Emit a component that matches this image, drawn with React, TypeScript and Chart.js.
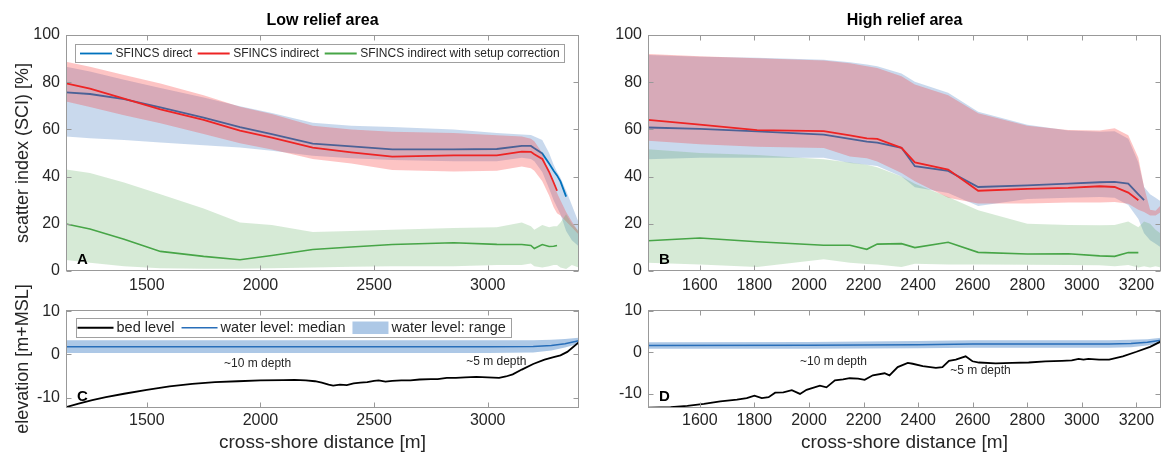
import React, { useEffect, useRef } from 'react';
import { Chart, registerables } from 'chart.js';

Chart.register(...registerables);

// ---------------- text ----------------
const titleA = 'Low relief area';
const titleB = 'High relief area';
const yTitleSci = 'scatter index (SCI) [%]';
const yTitleElev = 'elevation [m+MSL]';
const xTitleElev = 'cross-shore distance [m]';
const sciLegend = ['SFINCS direct', 'SFINCS indirect', 'SFINCS indirect with setup correction'];
const elevLegend = ['bed level', 'water level: median', 'water level: range'];
const panelLetters = ['A', 'B', 'C', 'D'];
const depthLabels = ['~10 m depth', '~5 m depth'];

// ---------------- ticks ----------------
const xTicksA = [1500, 2000, 2500, 3000];
const xTicksB = [1600, 1800, 2000, 2200, 2400, 2600, 2800, 3000, 3200];
const yTicksSci = [0, 20, 40, 60, 80, 100];
const yTicksElev = [-10, 0, 10];

// ---------------- panel A (low relief) ----------------
const xA = [1145, 1250, 1400, 1560, 1750, 1910, 2050, 2230, 2400, 2580, 2850, 3040, 3150, 3190, 3205, 3240, 3270, 3290, 3305, 3320, 3345, 3370, 3400];
const directMedA = [75.7, 75.0, 72.8, 69.3, 65.0, 61.0, 58.0, 54.0, 52.8, 51.5, 51.5, 51.7, 53.0, 53.0, 52.0, 49.8, 45.5, 42.5, 40.5, 38.0, 31.5, null, null];
const directHiA = [86.5, 84.5, 81.0, 77.5, 73.5, 69.8, 67.0, 62.8, 61.5, 61.0, 60.0, 58.5, 57.8, 57.6, 57.0, 55.5, 50.0, 45.0, 42.0, 39.5, 34.0, 28.0, 20.5];
const directLoA = [57.0, 56.3, 55.5, 54.5, 53.3, 52.3, 51.0, 48.8, 47.8, 47.0, 46.5, 46.5, 48.0, 47.5, 46.5, 42.0, 35.0, 30.0, 27.0, 24.0, 17.0, 13.0, 10.5];
const indirectMedA = [79.5, 77.3, 73.0, 68.5, 64.0, 59.5, 56.5, 52.3, 50.3, 48.5, 49.0, 49.0, 50.6, 50.5, 49.5, 47.5, 42.0, 37.5, 34.0, null, null, null, null];
const indirectHiA = [88.7, 86.5, 83.0, 79.5, 74.5, 69.6, 66.5, 61.5, 60.0, 59.0, 58.5, 57.5, 57.0, 56.0, 55.0, 50.0, 41.0, 37.0, 33.0, 30.0, 25.0, 21.0, 16.5];
const indirectLoA = [71.8, 69.5, 66.0, 62.6, 58.0, 54.1, 51.5, 47.5, 45.5, 42.8, 42.2, 42.5, 44.3, 43.5, 42.5, 38.0, 32.0, 27.0, 24.5, 23.5, 21.0, 18.5, 15.5];
const setupMedA = [19.9, 17.8, 13.5, 8.3, 6.2, 4.8, 6.6, 9.1, 10.2, 11.2, 12.0, 11.3, 11.2, 10.8, 9.5, 11.2, 10.4, 10.5, 10.8, null, null, null, null];
const setupHiA = [43.0, 41.5, 37.5, 32.5, 26.5, 20.5, 19.5, 16.5, 17.0, 17.5, 18.2, 18.5, 20.5, 19.0, 17.5, 19.5, 18.5, 19.0, 19.0, 20.5, 24.0, 20.0, 17.0];
const setupLoA = [4.7, 3.5, 2.0, 1.2, 1.0, 1.0, 1.2, 1.5, 1.8, 2.0, 2.0, 2.5, 2.5, 3.2, 2.0, 1.5, 2.0, 2.5, 2.5, 1.5, 0.8, 2.5, 1.5];

// ---------------- panel B (high relief) ----------------
const xB = [1410, 1600, 1810, 2054, 2150, 2212, 2250, 2339, 2388, 2510, 2620, 2800, 2950, 3065, 3120, 3170, 3207, 3228, 3250, 3270, 3290];
const directMedB = [60.8, 60.2, 59.2, 57.8, 56.0, 54.8, 54.4, 52.2, 44.4, 42.4, 35.6, 36.3, 37.0, 37.6, 37.8, 37.0, 32.5, 30.0, null, null, null];
const directHiB = [91.5, 90.8, 90.4, 89.5, 88.5, 87.5, 86.8, 83.7, 80.2, 75.5, 67.5, 62.0, 59.5, 59.0, 59.2, 56.0, 46.0, 35.6, 32.5, 31.0, 29.5];
const directLoB = [47.4, 48.0, 48.0, 48.0, 45.8, 45.0, 44.5, 40.0, 35.5, 33.0, 27.5, 30.5, 31.0, 31.4, 31.0, 28.0, 22.0, 16.0, 13.0, 11.5, 10.0];
const indirectMedB = [64.0, 62.0, 59.7, 59.3, 57.5, 56.2, 56.0, 52.2, 46.0, 43.0, 34.0, 34.8, 35.2, 35.9, 35.6, 33.2, 30.0, null, null, null, null];
const indirectHiB = [91.9, 91.0, 90.2, 89.2, 88.0, 86.8, 86.0, 82.5, 79.0, 74.5, 66.8, 61.5, 59.7, 59.5, 60.5, 57.5, 48.0, 35.6, 26.0, 25.5, 28.0];
const indirectLoB = [55.2, 53.7, 52.6, 52.1, 48.5, 47.8, 46.4, 41.5, 38.0, 31.0, 28.6, 28.6, 29.0, 29.0, 29.2, 28.5, 26.0, 25.0, 23.5, 23.5, 25.0];
const setupMedB = [12.8, 14.0, 12.4, 10.9, 10.9, 9.2, 11.4, 11.6, 9.9, 12.2, 7.9, 7.2, 7.3, 6.4, 6.2, 7.8, 7.8, null, null, null, null];
const setupHiB = [51.6, 50.0, 49.2, 47.4, 46.0, 45.0, 44.0, 40.0, 37.0, 31.4, 25.7, 20.0, 19.5, 19.4, 19.5, 21.0, 18.5, 21.0, 20.0, 17.5, 15.8];
const setupLoB = [3.5, 2.8, 1.7, 5.0, 3.5, 3.0, 2.8, 1.7, 3.1, 2.8, 2.8, 2.6, 2.5, 2.4, 2.0, 2.5, 1.5, 2.0, 1.5, 2.0, 1.5];

// ---------------- panel C (low relief profile) ----------------
const xBedC = [1145, 1200, 1260, 1320, 1400, 1500, 1600, 1700, 1800, 1900, 2000, 2100, 2150, 2200, 2240, 2270, 2300, 2320, 2350, 2380, 2410, 2440, 2470, 2500, 2520, 2550, 2580, 2620, 2660, 2700, 2750, 2780, 2820, 2860, 2900, 2950, 3000, 3050, 3080, 3110, 3150, 3200, 3250, 3290, 3320, 3350, 3400];
const bedC = [-12.2, -11.4, -10.6, -9.9, -9.1, -8.2, -7.4, -6.8, -6.4, -6.2, -6.0, -5.95, -5.9, -6.0, -6.2, -6.5, -7.0, -7.2, -7.0, -7.1, -6.7, -6.5, -6.4, -6.1, -6.0, -6.3, -6.1, -6.0, -6.0, -5.8, -5.7, -5.7, -5.4, -5.4, -5.3, -5.2, -5.3, -5.4, -5.1, -4.6, -3.5, -2.2, -1.2, -0.6, -0.2, 0.6, 2.8];
const xWaterC = [1145, 2000, 3000, 3200, 3280, 3340, 3400];
const waterMedC = [1.8, 1.8, 1.8, 1.85, 2.1, 2.5, 3.2];
const waterHiC = [3.3, 3.3, 3.3, 3.3, 3.4, 3.6, 3.9];
const waterLoC = [0.35, 0.35, 0.35, 0.45, 0.9, 1.6, 2.5];
const depthXC = [1840, 2905];
const depthYC = [-2.2, -1.7];

// ---------------- panel D (high relief profile) ----------------
const xBedD = [1410, 1493, 1554, 1615, 1675, 1736, 1772, 1800, 1827, 1852, 1876, 1906, 1937, 1967, 1991, 2040, 2064, 2095, 2125, 2149, 2180, 2204, 2234, 2277, 2295, 2325, 2362, 2380, 2417, 2465, 2489, 2513, 2538, 2574, 2599, 2623, 2684, 2745, 2805, 2866, 2927, 2963, 2988, 3006, 3024, 3063, 3100, 3150, 3200, 3250, 3290];
const bedD = [-13.4, -13.3, -13.0, -12.5, -11.9, -11.5, -11.1, -10.5, -11.1, -10.9, -9.8, -9.7, -9.2, -10.1, -9.1, -8.1, -8.5, -6.8, -6.6, -6.3, -6.4, -6.7, -5.6, -5.1, -5.6, -3.6, -2.6, -2.8, -3.4, -3.8, -3.6, -2.1, -1.8, -1.0, -2.2, -2.5, -2.7, -2.6, -2.5, -2.2, -2.1, -2.0, -1.6, -1.8, -1.6, -1.8, -1.8, -1.0, 0.1, 1.3, 2.6];
const xWaterD = [1410, 2000, 2400, 2600, 3100, 3180, 3240, 3290];
const waterMedD = [1.6, 1.65, 1.8, 1.95, 2.0, 2.1, 2.4, 2.9];
const waterHiD = [2.4, 2.45, 2.7, 2.9, 2.9, 3.0, 3.1, 3.5];
const waterLoD = [0.8, 0.85, 0.95, 1.1, 1.1, 1.2, 1.6, 2.2];
const depthXD = [1967, 2518];
const depthYD = [-2.4, -4.45];

// ---------------- styles ----------------
const FONT = '"Liberation Sans", Arial, Helvetica, sans-serif';
const INK = '#262626';
const FRAME = '#999999';
const C_DIRECT = '#0072bd';
const C_INDIRECT = '#ee2424';
const C_SETUP = '#47a547';
const F_DIRECT = 'rgba(60,120,190,0.28)';
const F_INDIRECT = 'rgba(250,60,60,0.30)';
const F_SETUP = 'rgba(90,170,90,0.25)';
const C_BED = '#000000';
const C_WATER = 'rgb(40,110,185)';
const F_WATER = 'rgba(40,110,190,0.38)';

const pts = (xs: number[], ys: (number | null)[]) =>
  xs.map((x, i) => ({ x, y: ys[i] })).filter((p) => p.y !== null && p.y !== undefined);

const band = (xs: number[], hi: number[], lo: number[], color: string, order: number) => [
  { data: pts(xs, hi), fill: '+1', backgroundColor: color, borderColor: 'rgba(0,0,0,0)', borderWidth: 0, pointRadius: 0, order },
  { data: pts(xs, lo), fill: false, backgroundColor: 'rgba(0,0,0,0)', borderColor: 'rgba(0,0,0,0)', borderWidth: 0, pointRadius: 0, order },
];

const line = (xs: number[], ys: (number | null)[], color: string, width: number, order: number) => ({
  data: pts(xs, ys), fill: false, borderColor: color, backgroundColor: color, borderWidth: width, pointRadius: 0, order,
});

function xAxis(min: number, max: number, ticks: number[], height: number, labelPad: number, title?: string) {
  return {
    type: 'linear', min, max,
    grid: { display: false, drawTicks: false }, border: { display: false },
    afterBuildTicks: (s: any) => { s.ticks = ticks.map((v) => ({ value: v })); },
    afterFit: (s: any) => { s.height = height; },
    ticks: { autoSkip: false, maxRotation: 0, minRotation: 0, padding: labelPad, color: INK, font: { family: FONT, size: 16 }, callback: (v: any) => String(v) },
    title: title
      ? { display: true, text: title, color: INK, font: { family: FONT, size: 19 }, padding: { top: 0, bottom: 1 } }
      : { display: false },
  };
}

function yAxis(min: number, max: number, ticks: number[], width: number, title?: string) {
  return {
    type: 'linear', min, max,
    grid: { display: false, drawTicks: false }, border: { display: false },
    afterBuildTicks: (s: any) => { s.ticks = ticks.map((v) => ({ value: v })); },
    afterFit: (s: any) => { s.width = width; },
    ticks: { autoSkip: false, padding: 6, color: INK, font: { family: FONT, size: 16 }, callback: (v: any) => String(v) },
    title: title
      ? { display: true, text: title, color: INK, font: { family: FONT, size: 18 }, padding: { top: 12, bottom: 0 } }
      : { display: false },
  };
}

function drawFrame(chart: any) {
  const { ctx, chartArea: a, scales } = chart;
  const xs = scales.x, ys = scales.y;
  ctx.save();
  ctx.strokeStyle = FRAME;
  ctx.lineWidth = 1;
  const L = Math.round(a.left) + 0.5, R = Math.round(a.right) - 0.5;
  const T = Math.round(a.top) + 0.5, B = Math.round(a.bottom) - 0.5;
  ctx.strokeRect(L, T, R - L, B - T);
  ctx.beginPath();
  const len = 5;
  xs.ticks.forEach((t: any) => {
    const p = Math.round(xs.getPixelForValue(t.value)) + 0.5;
    ctx.moveTo(p, B); ctx.lineTo(p, B - len);
    ctx.moveTo(p, T); ctx.lineTo(p, T + len);
  });
  ys.ticks.forEach((t: any) => {
    const p = Math.round(ys.getPixelForValue(t.value)) + 0.5;
    ctx.moveTo(L, p); ctx.lineTo(L + len, p);
    ctx.moveTo(R, p); ctx.lineTo(R - len, p);
  });
  ctx.stroke();
  ctx.restore();
}

type LegendItem = { label: string; color: string; kind: 'line' | 'patch'; width?: number };

function drawLegend(ctx: any, x0: number, y0: number, h: number, items: LegendItem[], fontSize: number,
  sample: number, padL: number, gap: number, itemGap: number, padR: number, patchH: number) {
  ctx.save();
  ctx.font = `${fontSize}px ${FONT}`;
  const widths = items.map((it) => ctx.measureText(it.label).width);
  let total = padL + padR + itemGap * (items.length - 1);
  items.forEach((_, i) => { total += sample + gap + widths[i]; });
  ctx.fillStyle = '#ffffff';
  ctx.fillRect(x0, y0, total, h);
  ctx.strokeStyle = '#a0a0a0';
  ctx.lineWidth = 1;
  ctx.strokeRect(Math.round(x0) + 0.5, Math.round(y0) + 0.5, Math.round(total), Math.round(h));
  let x = x0 + padL;
  const cy = y0 + h / 2 + 0.5;
  items.forEach((it, i) => {
    if (it.kind === 'line') {
      ctx.strokeStyle = it.color;
      ctx.lineWidth = it.width || 1.8;
      ctx.beginPath();
      ctx.moveTo(x, cy); ctx.lineTo(x + sample, cy);
      ctx.stroke();
    } else {
      ctx.fillStyle = it.color;
      ctx.fillRect(x, cy - patchH / 2, sample, patchH);
    }
    x += sample + gap;
    ctx.fillStyle = INK;
    ctx.textAlign = 'left';
    ctx.textBaseline = 'middle';
    ctx.fillText(it.label, x, cy);
    x += widths[i] + itemGap;
  });
  ctx.restore();
}

function drawLetter(ctx: any, letter: string, x: number, y: number) {
  ctx.save();
  ctx.font = `bold 15px ${FONT}`;
  ctx.fillStyle = '#000';
  ctx.textAlign = 'left';
  ctx.textBaseline = 'alphabetic';
  ctx.fillText(letter, x, y);
  ctx.restore();
}

function sciConfig(p: any) {
  const datasets = [
    ...band(p.xs, p.dHi, p.dLo, F_DIRECT, 9),
    line(p.xs, p.dMed, C_DIRECT, 1.8, 8),
    ...band(p.xs, p.iHi, p.iLo, F_INDIRECT, 7),
    line(p.xs, p.iMed, C_INDIRECT, 1.8, 6),
    ...band(p.xs, p.sHi, p.sLo, F_SETUP, 5),
    line(p.xs, p.sMed, C_SETUP, 1.6, 4),
  ];
  const overlay = {
    id: 'overlay',
    afterDatasetsDraw(chart: any) { drawFrame(chart); },
    afterDraw(chart: any) {
      const { ctx, chartArea: a } = chart;
      if (p.legend) {
        drawLegend(ctx, a.left + 9, a.top + 9, 18, [
          { label: sciLegend[0], color: C_DIRECT, kind: 'line', width: 1.8 },
          { label: sciLegend[1], color: C_INDIRECT, kind: 'line', width: 1.8 },
          { label: sciLegend[2], color: C_SETUP, kind: 'line', width: 1.8 },
        ], 12, 32, 5, 3.5, 5.5, 4, 10);
      }
      drawLetter(ctx, p.letter, a.left + 11, a.bottom - 7.5);
    },
  };
  return {
    type: 'line',
    data: { datasets },
    options: {
      animation: false, responsive: false, devicePixelRatio: 1,
      layout: { padding: { left: 0, right: p.padRight, top: 0, bottom: 0 } },
      elements: { line: { tension: 0 }, point: { radius: 0 } },
      plugins: {
        legend: { display: false },
        tooltip: { enabled: false },
        title: {
          display: true, text: p.title, color: '#000', fullSize: false,
          font: { family: FONT, size: 16, weight: 'bold' }, padding: { top: 11, bottom: 4.8 },
        },
      },
      scales: {
        x: xAxis(p.xMin, p.xMax, p.xTicks, 29, 5),
        y: yAxis(0, 100, yTicksSci, p.yWidth, p.yTitle),
      },
    },
    plugins: [overlay],
  };
}

function elevConfig(p: any) {
  const datasets = [
    ...band(p.xw, p.wHi, p.wLo, F_WATER, 9),
    line(p.xw, p.wMed, C_WATER, 1.5, 8),
    line(p.xb, p.bed, C_BED, 1.8, 7),
  ];
  const overlay = {
    id: 'overlay',
    afterDatasetsDraw(chart: any) { drawFrame(chart); },
    afterDraw(chart: any) {
      const { ctx, chartArea: a, scales } = chart;
      if (p.legend) {
        drawLegend(ctx, a.left + 9.5, a.top + 8, 18.5, [
          { label: elevLegend[0], color: C_BED, kind: 'line', width: 1.8 },
          { label: elevLegend[1], color: C_WATER, kind: 'line', width: 1.5 },
          { label: elevLegend[2], color: F_WATER, kind: 'patch' },
        ], 14.5, 36, 2, 3, 7, 5, 12.5);
      }
      ctx.save();
      ctx.font = `12px ${FONT}`;
      ctx.fillStyle = INK;
      ctx.textAlign = 'left';
      ctx.textBaseline = 'middle';
      depthLabels.forEach((t, i) => {
        ctx.fillText(t, scales.x.getPixelForValue(p.dx[i]), scales.y.getPixelForValue(p.dy[i]));
      });
      ctx.restore();
      drawLetter(ctx, p.letter, a.left + 11, a.bottom - 7.5);
    },
  };
  return {
    type: 'line',
    data: { datasets },
    options: {
      animation: false, responsive: false, devicePixelRatio: 1,
      layout: { padding: { left: 0, right: p.padRight, top: 40, bottom: 0 } },
      elements: { line: { tension: 0 }, point: { radius: 0 } },
      plugins: { legend: { display: false }, tooltip: { enabled: false }, title: { display: false } },
      scales: {
        x: xAxis(p.xMin, p.xMax, p.xTicks, 47, 3, xTitleElev),
        y: yAxis(p.yMin, p.yMax, yTicksElev, p.yWidth, p.yTitle),
      },
    },
    plugins: [overlay],
  };
}

function Panel({ build, left, top, width, height }: any) {
  const ref = useRef<HTMLCanvasElement>(null);
  useEffect(() => {
    const chart = new Chart(ref.current as any, build() as any);
    return () => chart.destroy();
  }, []);
  return (
    <canvas ref={ref} width={width} height={height}
      style={{ position: 'absolute', left, top, width, height, display: 'block' }} />
  );
}

export default function App() {
  return (
    <div style={{ position: 'fixed', left: 0, top: 0, width: 1170, height: 455, background: '#fff', overflow: 'hidden' }}>
      <Panel left={0} top={0} width={600} height={300} build={() => sciConfig({
        xs: xA, dMed: directMedA, dHi: directHiA, dLo: directLoA,
        iMed: indirectMedA, iHi: indirectHiA, iLo: indirectLoA,
        sMed: setupMedA, sHi: setupHiA, sLo: setupLoA,
        xMin: 1144.6, xMax: 3401.6, xTicks: xTicksA, title: titleA, letter: panelLetters[0],
        yTitle: yTitleSci, yWidth: 66, padRight: 21, legend: true,
      })} />
      <Panel left={585} top={0} width={585} height={300} build={() => sciConfig({
        xs: xB, dMed: directMedB, dHi: directHiB, dLo: directLoB,
        iMed: indirectMedB, iHi: indirectHiB, iLo: indirectLoB,
        sMed: setupMedB, sHi: setupHiB, sLo: setupLoB,
        xMin: 1410, xMax: 3290, xTicks: xTicksB, title: titleB, letter: panelLetters[1],
        yTitle: undefined, yWidth: 63, padRight: 9, legend: false,
      })} />
      <Panel left={0} top={270} width={600} height={185} build={() => elevConfig({
        xw: xWaterC, wMed: waterMedC, wHi: waterHiC, wLo: waterLoC, xb: xBedC, bed: bedC,
        dx: depthXC, dy: depthYC, xMin: 1144.6, xMax: 3401.6, xTicks: xTicksA,
        yMin: -12.4, yMax: 10.3, letter: panelLetters[2], yTitle: yTitleElev, yWidth: 66, padRight: 21, legend: true,
      })} />
      <Panel left={585} top={270} width={585} height={185} build={() => elevConfig({
        xw: xWaterD, wMed: waterMedD, wHi: waterHiD, wLo: waterLoD, xb: xBedD, bed: bedD,
        dx: depthXD, dy: depthYD, xMin: 1410, xMax: 3290, xTicks: xTicksB,
        yMin: -13.5, yMax: 10.2, letter: panelLetters[3], yTitle: undefined, yWidth: 63, padRight: 9, legend: false,
      })} />
    </div>
  );
}
